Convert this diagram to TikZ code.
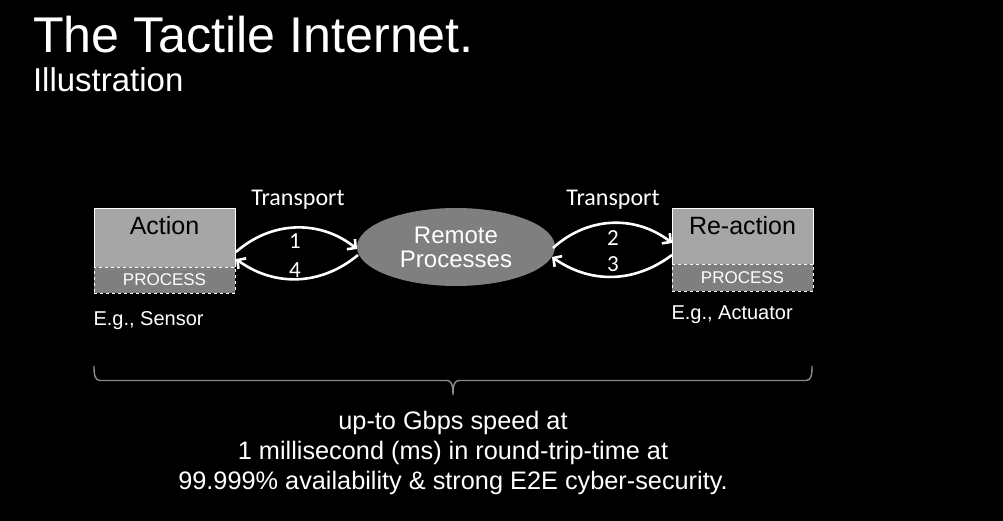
\documentclass[tikz,border=0pt]{standalone}
\usepackage{fontspec}
\setmainfont{Liberation Sans}
\newfontfamily\calib{Carlito}
\usetikzlibrary{arrows.meta,shapes.geometric,calc}

\definecolor{boxlight}{HTML}{A6A6A6}
\definecolor{boxdark}{HTML}{7F7F7F}
\definecolor{bracegray}{HTML}{8C8C8C}

\begin{document}
\begin{tikzpicture}[x=1pt,y=-1pt,
  every node/.style={inner sep=0pt, outer sep=0pt},
  toppart/.style={rectangle, fill=boxlight, minimum width=141pt},
  procpart/.style={rectangle, fill=boxdark, draw=white, dashed, line width=0.8pt,
    minimum width=141pt, text=white, font=\fontsize{17}{20}\selectfont},
  boxtitle/.style={anchor=base, text=black, font=\fontsize{25}{30}\selectfont},
  note/.style={anchor=base west, text=white, font=\fontsize{20}{24}\selectfont},
  transport/.style={anchor=base, text=white, font=\calib\fontsize{24}{28}\selectfont},
  stepnum/.style={anchor=base, text=white, font=\calib\fontsize{23}{27}\selectfont},
  flow/.style={draw=white, line width=2.6pt, -{Straight Barb[length=6pt,width=13pt]}},
  outline/.style={draw=white, line width=0.8pt}
]
% page
\fill[black] (0,0) rectangle (1003,521);
\useasboundingbox (0,0) rectangle (1003,521);

% heading
\node[anchor=base west, text=white, font=\fontsize{50.2}{60}\selectfont] (title) at (33,53) {The Tactile Internet.};
\node[anchor=base west, text=white, font=\fontsize{33}{38}\selectfont] (subtitle) at (33,92) {Illustration};

% action side
\node[toppart, minimum height=59pt] (act) at (164.5,237.5) {};
\node[procpart, minimum height=26pt] (actp) at (164.5,280) {PROCESS};
\draw[outline] (actp.north west) |- (act.north east) -- (actp.north east);
\node[boxtitle] (acttxt) at (164.5,235) {Action};
\node[note] (sensor) at (93.5,325) {E.g., Sensor};

% reaction side
\node[toppart, minimum height=56pt] (rea) at (742.5,236) {};
\node[procpart, minimum height=27pt] (reap) at (742.5,277.5) {PROCESS};
\draw[outline] (reap.north west) |- (rea.north east) -- (reap.north east);
\node[boxtitle] (reatxt) at (742.5,235) {Re-action};
\node[note] (actuator) at (671.5,319) {E.g., Actuator};

% remote processes
\node[ellipse, fill=boxdark, minimum width=198pt, minimum height=78pt,
  align=center, text=white, font=\fontsize{24}{24}\selectfont] (rem) at (456,247) {Remote\\Processes};

% transport arrows
\draw[flow] ($(act.east)+(1,14.5)$) to[bend left=40] ($(rem.west)+(0,2)$);
\draw[flow] ($(rem.west)+(1,8)$) to[bend left=38] ($(act.east)+(1,21.5)$);
\draw[flow] ($(rem.east)+(-2,1)$) to[bend left=40] ($(rea.west)+(0,7)$);
\draw[flow] ($(rea.west)+(0,19)$) to[bend left=36] ($(rem.east)+(-3,10)$);

\node[transport] (tl) at (298,206) {Transport};
\node[transport] (tr) at (613,206) {Transport};
\node[stepnum] (n1) at (295,249) {1};
\node[stepnum] (n4) at (295,277) {4};
\node[stepnum] (n2) at (613,245) {2};
\node[stepnum] (n3) at (613,271) {3};

% end-to-end brace
\coordinate (bl) at (94,366);
\coordinate (btip) at (453,395);
\coordinate (br) at (812,366);
\draw[bracegray, line width=1.4pt]
  (bl) .. controls (94,375) and (95,380.5) .. (100,380.5)
  -- (447,380.5) .. controls (451,380.5) and (453,384) .. (btip)
  .. controls (453,384) and (455,380.5) .. (459,380.5)
  -- (806,380.5) .. controls (811,380.5) and (812,375) .. (br);

% summary
\node[anchor=north, align=center, text=white, font=\fontsize{25.3}{30}\selectfont] (summary) at (453,411)
  {up-to Gbps speed at\\1 millisecond (ms) in round-trip-time at\\99.999\% availability \& strong E2E cyber-security.};
\end{tikzpicture}
\end{document}
